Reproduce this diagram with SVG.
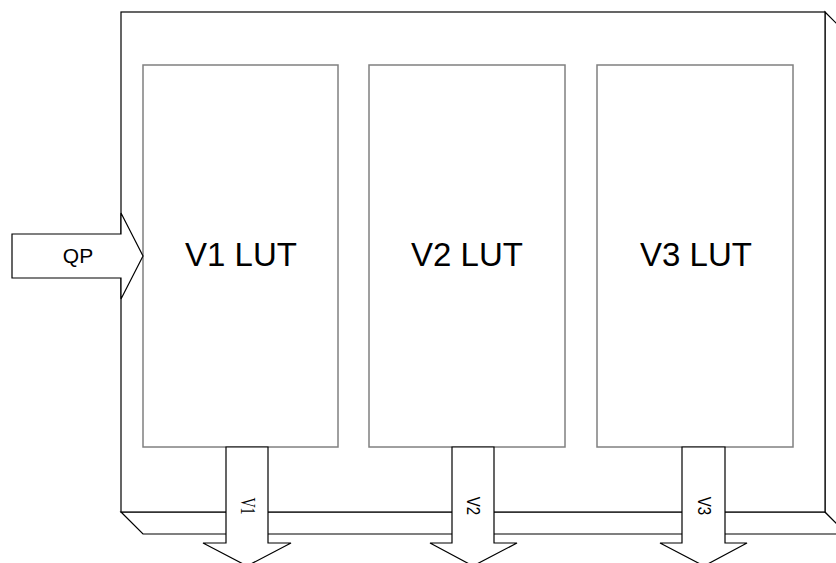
<svg xmlns="http://www.w3.org/2000/svg" width="836" height="563" viewBox="0 0 836 563">
<style>
.box{fill:#fff;stroke:#000;stroke-width:1.2}
.lut{fill:#fff;stroke:#808080;stroke-width:1.5}
.arr{fill:#fff;stroke:#000;stroke-width:1.2}
.big{font-family:"Liberation Sans",Arial,sans-serif;font-size:33px;fill:#000;text-anchor:middle}
.small{font-family:"Liberation Sans",Arial,sans-serif;font-size:15px;fill:#000;text-anchor:middle}
</style>
<rect width="836" height="563" fill="#fff"/>
<g id="housing">
<polygon class="box" points="121,512 825,512 847,534 143,534"/>
<polygon class="box" points="825,12 847,34 847,534 825,512"/>
<rect class="box" x="121" y="12" width="704" height="500"/>
</g>
<g id="v1lut">
<rect class="lut" x="143" y="65" width="195" height="382"/>
<text class="big" x="241" y="266">V1 LUT</text>
</g>
<g id="v2lut">
<rect class="lut" x="369" y="65" width="196" height="382"/>
<text class="big" x="467" y="266">V2 LUT</text>
</g>
<g id="v3lut">
<rect class="lut" x="597" y="65" width="196" height="382"/>
<text class="big" x="696" y="266">V3 LUT</text>
</g>
<g id="connectors">
<g id="qp">
<polygon class="arr" points="12,234 121,234 121,213 143,256 121,299 121,278 12,278"/>
<text class="small" x="78" y="263" style="font-size:21px">QP</text>
</g>
<g id="v1">
<polygon class="arr" points="226,447 268,447 268,543 291,543 247,566 203,543 226,543"/>
<text transform="translate(241,506) rotate(90) scale(1,1.5)" x="0" y="0" text-anchor="middle" font-family="Liberation Serif,Times New Roman,serif" font-size="14">V1</text>
</g>
<g id="v2">
<polygon class="arr" points="452,447 494,447 494,543 517,543 473,566 430,543 452,543"/>
<text transform="translate(467,506) rotate(90) scale(1,1.25)" class="small" x="0" y="0">V2</text>
</g>
<g id="v3">
<polygon class="arr" points="682,447 725,447 725,543 747,543 704,566 660,543 682,543"/>
<text transform="translate(698,506) rotate(90) scale(1,1.25)" class="small" x="0" y="0">V3</text>
</g>
</g>
</svg>
